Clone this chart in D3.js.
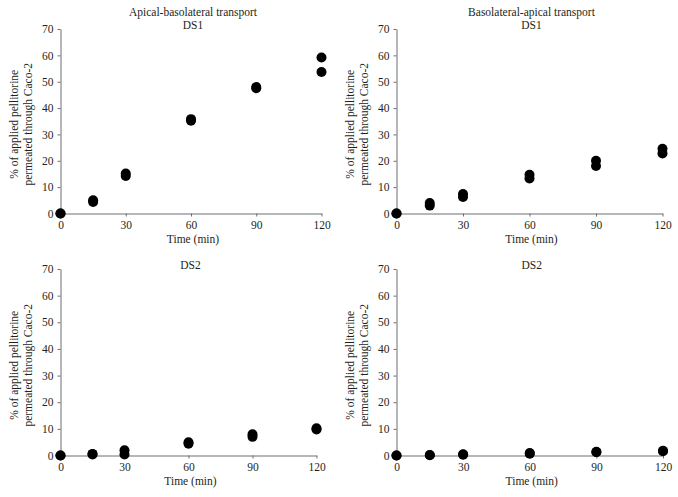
<!DOCTYPE html>
<html>
<head>
<meta charset="utf-8">
<script src="https://cdn.jsdelivr.net/npm/d3@7"></script>
<style>
  html, body { margin: 0; padding: 0; background: #fff; }
  svg { display: block; }
  text { font-family: "Liberation Serif", "DejaVu Serif", serif; fill: #231f20; }
</style>
</head>
<body>
<svg id="chart" width="678" height="497"></svg>
<script>
// ---- data ----
const times = [0, 15, 30, 60, 90, 120];
const xTicks = [0, 30, 60, 90, 120];
const yTicks = [0, 10, 20, 30, 40, 50, 60, 70];

const abDS1_rep1 = [0, 4.4, 14.2, 35.2, 47.5, 53.7];
const abDS1_rep2 = [0, 5.0, 15.2, 35.8, 48.0, 59.2];
const baDS1_rep1 = [0, 3.0, 6.3, 13.3, 18.0, 22.8];
const baDS1_rep2 = [0, 4.0, 7.4, 14.7, 20.0, 24.6];
const abDS2_rep1 = [0, 0.4, 0.4, 4.4, 7.0, 9.8];
const abDS2_rep2 = [0, 0.6, 2.0, 5.0, 8.0, 10.2];
const baDS2_rep1 = [0, 0.1, 0.3, 0.7, 1.2, 1.6];
const baDS2_rep2 = [0, 0.2, 0.5, 0.9, 1.4, 1.8];

const titles = ["Apical-basolateral transport", "Basolateral-apical transport"];
const subtitles = ["DS1", "DS1", "DS2", "DS2"];
const xLabel = "Time (min)";
const yLabel1 = "% of applied pellitorine";
const yLabel2 = "permeated through Caco-2";

// ---- layout ----
const panels = [
  { x: [60.5, 321.5], y: [213.5, 29], series: [abDS1_rep1, abDS1_rep2], title: titles[0], sub: subtitles[0] },
  { x: [396.5, 662.5], y: [213.5, 29], series: [baDS1_rep1, baDS1_rep2], title: titles[1], sub: subtitles[1] },
  { x: [60.5, 316.5], y: [455.5, 269], series: [abDS2_rep1, abDS2_rep2], title: null, sub: subtitles[2] },
  { x: [396.5, 663], y: [455.5, 269], series: [baDS2_rep1, baDS2_rep2], title: null, sub: subtitles[3] }
];

const svg = d3.select("#chart");
const axisColor = "#6d6e71";

panels.forEach(p => {
  const x = d3.scaleLinear().domain([0, 120]).range(p.x);
  const y = d3.scaleLinear().domain([0, 70]).range(p.y);
  const g = svg.append("g");

  const xAxis = g.append("g").attr("transform", `translate(0,${p.y[0]})`)
    .call(d3.axisBottom(x).tickValues(xTicks).tickSize(3).tickSizeOuter(0).tickPadding(4));
  const yAxis = g.append("g").attr("transform", `translate(${p.x[0]},0)`)
    .call(d3.axisLeft(y).tickValues(yTicks).tickSize(3).tickSizeOuter(0).tickPadding(4));
  [xAxis, yAxis].forEach(a => {
    a.selectAll("path, line").attr("stroke", axisColor).attr("stroke-width", 1);
    a.selectAll("text").style("font-family", '"Liberation Serif", serif').style("font-size", "11.5px").attr("fill", "#231f20");
  });

  const midX = (p.x[0] + p.x[1]) / 2 + 2;
  if (p.title) {
    g.append("text").attr("x", midX).attr("y", p.y[1] - 13).attr("text-anchor", "middle")
      .style("font-size", "11.5px").text(p.title);
  }
  g.append("text").attr("x", midX).attr("y", p.y[1]).attr("text-anchor", "middle")
    .style("font-size", "11.5px").text(p.sub);

  g.append("text").attr("x", midX).attr("y", p.y[0] + 29).attr("text-anchor", "middle")
    .style("font-size", "11.5px").text(xLabel);

  const midY = (p.y[0] + p.y[1]) / 2 + 3;
  const lx = p.x[0] - 43;
  g.append("text").attr("transform", `translate(${lx},${midY}) rotate(-90)`).attr("text-anchor", "middle")
    .style("font-size", "11.5px").text(yLabel1);
  g.append("text").attr("transform", `translate(${lx + 14},${midY}) rotate(-90)`).attr("text-anchor", "middle")
    .style("font-size", "11.5px").text(yLabel2);

  p.series.forEach(s => {
    g.selectAll(null).data(times.map((t, i) => ({ t, v: s[i] }))).enter()
      .append("circle")
      .attr("cx", d => x(d.t)).attr("cy", d => y(d.v)).attr("r", 5)
      .attr("fill", "#000");
  });
});
</script>
</body>
</html>
